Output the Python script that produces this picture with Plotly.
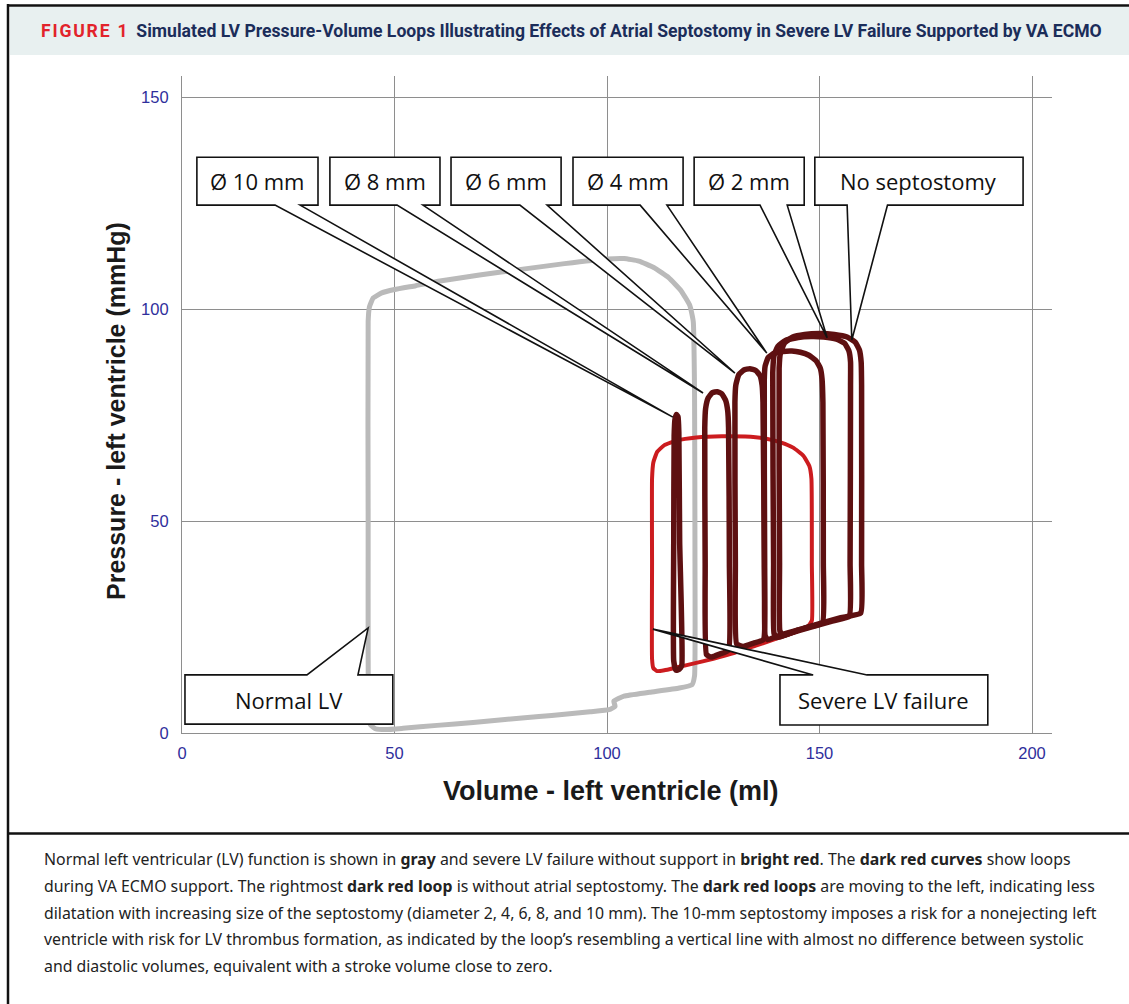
import plotly.graph_objects as go

# ---------------- data ----------------
normal_v = [43.8, 43.8, 44.1, 45.0, 47.0, 50.0, 55.0, 60.7, 70.0, 80.2, 90.0, 100.0, 104.0, 107.5, 111.0,
            114.5, 117.5, 119.5, 120.3, 120.6, 120.7, 120.6, 120.0, 117.0, 110.0, 104.0, 101.6, 101.9, 100.5,
            96.0, 90.0, 84.0, 76.0, 68.5, 60.0, 52.0, 48.0, 45.5, 44.3, 43.9, 43.8]
normal_p = [50, 97, 100.5, 102.6, 103.8, 104.6, 105.5, 106.6, 108.0, 109.4, 110.7, 111.8, 111.9, 111.3, 109.8,
            107.4, 104.2, 100.8, 97.0, 80.0, 40.0, 13.5, 11.4, 10.6, 9.6, 8.7, 7.5, 6.3, 5.5,
            5.0, 4.4, 3.9, 3.2, 2.5, 1.8, 1.1, 0.8, 1.0, 2.0, 5.0, 50]

severe_v = [110.6, 110.6, 110.9, 111.8, 113.5, 116.5, 121.0, 127.0, 132.5, 137.5, 141.0, 143.8, 146.2, 147.6,
            148.1, 148.2, 148.2, 147.3, 145.0, 140.0, 135.0, 130.0, 125.0, 120.0, 116.5, 113.5, 111.8, 110.9,
            110.6, 110.6]
severe_p = [40, 60, 63.8, 66.3, 67.9, 69.0, 69.7, 70.0, 69.9, 69.4, 68.5, 67.3, 65.4, 63.0,
            60.0, 40.0, 26.5, 25.2, 24.1, 22.3, 20.6, 18.9, 17.5, 16.3, 15.5, 14.8, 14.6, 15.3,
            17.5, 40]

ecmo_10_v = [115.7, 115.8, 116.0, 116.35, 116.7, 116.9, 117.1, 117.6, 117.0, 116.2, 115.7, 115.7]
ecmo_10_p = [45, 70, 74.0, 75.1, 74.6, 71, 45, 16.0, 15.0, 14.8, 17, 45]

ecmo_8_v = [123.1, 123.0, 123.2, 123.8, 124.8, 125.9, 127.0, 127.9, 128.4, 128.6, 128.8, 128.6, 126.5, 124.5,
            123.4, 123.1]
ecmo_8_p = [40, 72, 76.5, 79.0, 80.3, 80.5, 80.0, 78.5, 76, 72, 40, 19.5, 18.6, 17.9, 18.5, 40]

ecmo_6_v = [130.2, 130.1, 130.3, 131.0, 132.2, 133.6, 135.0, 136.0, 136.5, 136.7, 137.0, 136.8, 134.5, 132.0,
            130.5, 130.2]
ecmo_6_p = [40, 78, 82, 84.5, 85.6, 85.9, 85.5, 84.3, 82, 78, 40, 22.0, 21.2, 20.4, 21.0, 40]

ecmo_4_v = [137.1, 137.0, 137.2, 137.9, 139.4, 141.4, 143.5, 145.5, 147.5, 149.2, 150.2, 150.6, 150.8, 150.9,
            150.7, 147.5, 144.0, 140.0, 137.8, 137.2, 137.1]
ecmo_4_p = [40, 83, 86.5, 88.5, 89.6, 90.0, 90.1, 89.8, 89.1, 87.8, 86.0, 83.5, 78, 40,
            26.0, 25.0, 24.0, 22.8, 22.0, 23, 40]

ecmo_2_v = [139.2, 139.0, 139.3, 140.2, 142.0, 145.0, 148.0, 151.0, 154.0, 155.9, 156.9, 157.3, 157.3, 157.2,
            157.0, 153.0, 148.0, 143.0, 140.0, 139.3, 139.2]
ecmo_2_p = [40, 85, 89, 91.2, 92.6, 93.3, 93.5, 93.4, 92.9, 91.9, 90.2, 87.5, 82, 40,
            27.5, 26.4, 25.0, 23.5, 22.5, 23.5, 40]

ecmo_0_v = [140.6, 140.5, 140.8, 141.8, 143.7, 146.5, 150.0, 153.5, 156.5, 158.4, 159.4, 159.8, 159.9, 159.9,
            159.7, 155.0, 150.0, 145.0, 141.5, 140.7, 140.6]
ecmo_0_p = [40, 86, 89.6, 92.0, 93.4, 94.0, 94.2, 94.0, 93.4, 92.2, 90.3, 87.5, 82, 40,
            28.3, 27.2, 25.8, 24.3, 23.0, 24.0, 40]

x_ticks = [0, 50, 100, 150, 200]
y_ticks = [0, 50, 100, 150]

callout_labels = ["Ø 10 mm", "Ø 8 mm", "Ø 6 mm", "Ø 4 mm", "Ø 2 mm", "No septostomy",
                  "Normal LV", "Severe LV failure"]
# point each callout aims at (volume, pressure)
callout_targets_v = [115.5, 122.6, 130.1, 137.6, 151.8, 157.6, 43.8, 110.8]
callout_targets_p = [74.5, 80.2, 84.9, 89.6, 93.2, 92.7, 24.8, 24.5]

title_tag = "FIGURE 1"
title_text = ("Simulated LV Pressure-Volume Loops Illustrating Effects of Atrial Septostomy "
              "in Severe LV Failure Supported by VA ECMO")
caption_lines = [
    "Normal left ventricular (LV) function is shown in <b>gray</b> and severe LV failure without support in "
    "<b>bright red</b>. The <b>dark red curves</b> show loops",
    "during VA ECMO support. The rightmost <b>dark red loop</b> is without atrial septostomy. The "
    "<b>dark red loops</b> are moving to the left, indicating less",
    "dilatation with increasing size of the septostomy (diameter 2, 4, 6, 8, and 10 mm). The 10-mm septostomy "
    "imposes a risk for a nonejecting left",
    "ventricle with risk for LV thrombus formation, as indicated by the loop’s resembling a vertical line with "
    "almost no difference between systolic",
    "and diastolic volumes, equivalent with a stroke volume close to zero.",
]

# ---------------- layout geometry ----------------
W, H = 1129, 1004
PL, PR, PT, PB = 182, 1052, 76, 733   # plot area in pixels


def px(X):
    return (X - PL) / (PR - PL)


def py(Y):
    return (PB - Y) / (PB - PT)


GRAY = "#bababa"
RED = "#cc1c1f"
DARK = "#5e1011"

fig = go.Figure()
fig.add_trace(go.Scatter(x=normal_v, y=normal_p, mode="lines",
                         line=dict(color=GRAY, width=5, shape="spline", smoothing=0.4), hoverinfo="skip"))
fig.add_trace(go.Scatter(x=severe_v, y=severe_p, mode="lines",
                         line=dict(color=RED, width=4, shape="spline", smoothing=0.4), hoverinfo="skip"))
for v, p in [(ecmo_10_v, ecmo_10_p), (ecmo_8_v, ecmo_8_p), (ecmo_6_v, ecmo_6_p),
             (ecmo_4_v, ecmo_4_p), (ecmo_2_v, ecmo_2_p), (ecmo_0_v, ecmo_0_p)]:
    fig.add_trace(go.Scatter(x=v, y=p, mode="lines",
                             line=dict(color=DARK, width=5.5, shape="spline", smoothing=0.4),
                             hoverinfo="skip"))

# ---------------- callout boxes (data coords) ----------------
# (x0, x1, y_bottom, y_top, tail base 1, tail base 2, tail on 'bottom'/'top')
boxes = [
    (3.5, 32.0, 124.5, 135.8, 21.9, 27.8, "bottom"),
    (34.8, 60.7, 124.5, 135.8, 50.6, 56.7, "bottom"),
    (63.3, 89.2, 124.5, 135.8, 79.5, 85.9, "bottom"),
    (92.0, 117.9, 124.5, 135.8, 107.8, 114.1, "bottom"),
    (120.5, 146.4, 124.5, 135.8, 136.0, 142.4, "bottom"),
    (148.9, 197.9, 124.5, 135.8, 156.5, 166.0, "bottom"),
    (0.7, 49.6, 2.1, 13.7, 29.4, 41.4, "top"),
    (140.7, 189.6, 1.9, 13.7, 148.5, 161.2, "top"),
]
shapes = []
annotations = []
for (x0, x1, yb, yt, b1, b2, side), lab, tv, tp in zip(boxes, callout_labels, callout_targets_v,
                                                         callout_targets_p):
    if side == "bottom":
        path = (f"M{x0},{yt} L{x1},{yt} L{x1},{yb} L{b2},{yb} L{tv},{tp} L{b1},{yb} L{x0},{yb} Z")
    else:
        path = (f"M{x0},{yb} L{x0},{yt} L{b1},{yt} L{tv},{tp} L{b2},{yt} L{x1},{yt} L{x1},{yb} Z")
    shapes.append(dict(type="path", path=path, xref="x", yref="y", fillcolor="white",
                       line=dict(color="#111111", width=1.6), layer="above"))
    annotations.append(dict(x=(x0 + x1) / 2, y=(yb + yt) / 2, xref="x", yref="y", text=lab,
                            showarrow=False, font=dict(family="Open Sans", size=22, color="#111111"),
                            xanchor="center", yanchor="middle"))

# ---------------- frame / header / caption ----------------
shapes += [
    dict(type="rect", xref="paper", yref="paper", x0=px(10), x1=px(1135), y0=py(55), y1=py(7),
         fillcolor="#e8f0f0", line=dict(width=0), layer="below"),
    dict(type="line", xref="paper", yref="paper", x0=px(8), x1=px(8), y0=py(4), y1=py(1010),
         line=dict(color="#111111", width=2.5)),
    dict(type="line", xref="paper", yref="paper", x0=px(7), x1=px(1135), y0=py(5.5), y1=py(5.5),
         line=dict(color="#111111", width=2.5)),
    dict(type="line", xref="paper", yref="paper", x0=px(7), x1=px(1135), y0=py(833.5), y1=py(833.5),
         line=dict(color="#111111", width=2.5)),
]

HAIR = "\u200a"
annotations.append(dict(
    x=px(39), y=py(31), xref="paper", yref="paper", xanchor="left", yanchor="middle", showarrow=False,
    text=(f"<span style='color:#e2232b'>{HAIR.join(title_tag)}</span>&nbsp;&nbsp;"
          f"<span style='color:#1b2d5a'>{title_text}</span>"),
    font=dict(family="Roboto", size=17.6, weight="bold")))

for i, line in enumerate(caption_lines):
    annotations.append(dict(x=px(42), y=py(859 + 26.8 * i), xref="paper", yref="paper",
                            xanchor="left", yanchor="middle", showarrow=False, text=line,
                            font=dict(family="Noto Sans", size=15.85, color="#222222")))

# axis titles
annotations.append(dict(x=px(611), y=py(791), xref="paper", yref="paper", showarrow=False,
                        text="Volume - left ventricle (ml)", xanchor="center", yanchor="middle",
                        font=dict(family="Liberation Sans", size=27, color="#1a1a1a", weight="bold")))
annotations.append(dict(x=px(116), y=py(411), xref="paper", yref="paper", showarrow=False,
                        text="Pressure - left ventricle (mmHg)", textangle=-90,
                        xanchor="center", yanchor="middle",
                        font=dict(family="Liberation Sans", size=25, color="#1a1a1a", weight="bold")))

axis_common = dict(showgrid=True, gridcolor="#8e8e8e", gridwidth=1, zeroline=False,
                   showline=True, linecolor="#8e8e8e", linewidth=1.2, ticks="",
                   tickfont=dict(family="Liberation Sans", size=16.5, color="#2f2f9c"))
fig.update_xaxes(range=[0, 200 * (PR - PL) / 850], tickvals=x_ticks, ticklabelstandoff=5, **axis_common)
fig.update_yaxes(range=[0, 150 * (PB - PT) / 636], tickvals=y_ticks, ticklabelstandoff=9, **axis_common)

fig.update_layout(width=W, height=H, margin=dict(l=PL, r=W - PR, t=PT, b=H - PB, pad=0),
                  paper_bgcolor="white", plot_bgcolor="white", showlegend=False,
                  shapes=shapes, annotations=annotations)

fig.write_html("out.html", config={"displayModeBar": False},
               post_script="document.body.style.margin='0';")
